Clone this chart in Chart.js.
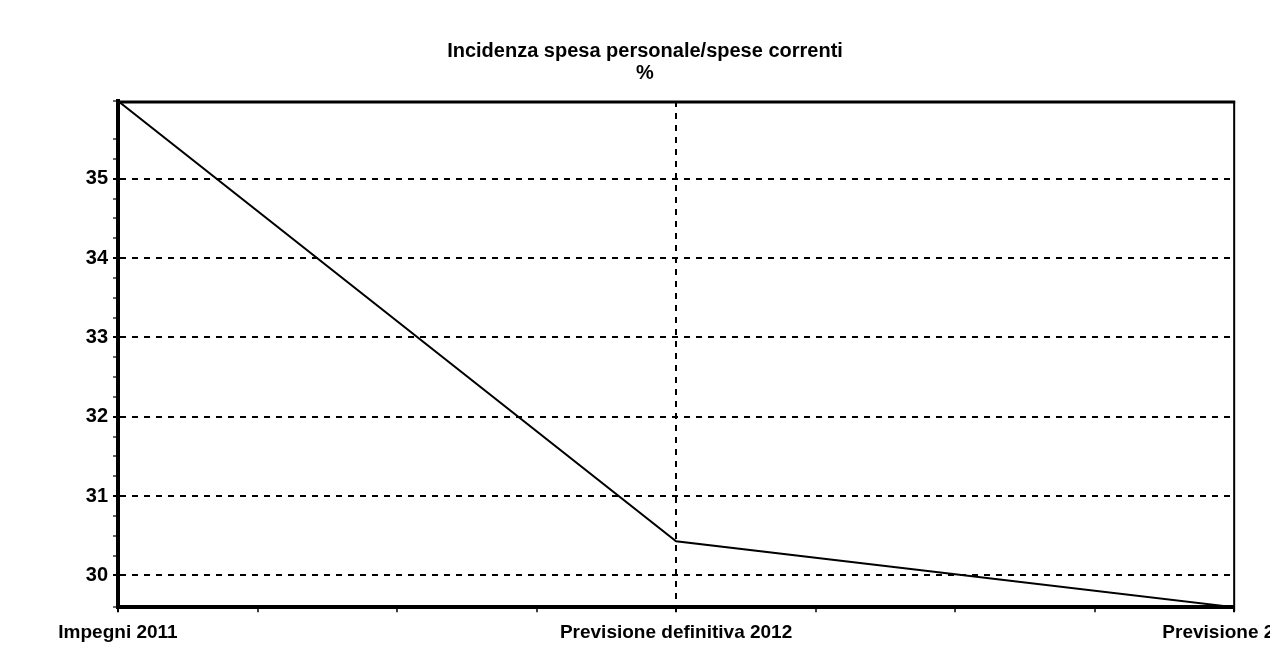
<!DOCTYPE html>
<html lang="it">
<head>
  <meta charset="UTF-8" />
  <title>Incidenza spesa personale/spese correnti</title>
  <script src="https://cdn.jsdelivr.net/npm/chart.js"></script>
  <style>
    html, body { margin: 0; padding: 0; background: #fff; overflow: hidden; }
    canvas { display: block; }
  </style>
</head>
<body>
  <canvas id="grafico" width="1315" height="669"></canvas>

  <script>
    // dati
    const categorie = ['Impegni 2011', 'Previsione definitiva 2012', 'Previsione 2013'];
    const valori = [35.98, 30.43, 29.6];
    const limitiY = [29.6, 35.98];
    const titolo = ['Incidenza spesa personale/spese correnti', '%'];

    const intero = v => Math.abs(v - Math.round(v)) < 1e-6;

    // bordo superiore e destro del riquadro
    const cornice = {
      id: 'cornice',
      afterDraw(chart) {
        const { ctx, chartArea: a } = chart;
        ctx.save();
        ctx.strokeStyle = '#000';
        ctx.lineWidth = 3;
        ctx.beginPath();
        ctx.moveTo(a.left, a.top + 1);
        ctx.lineTo(a.right + 1, a.top + 1);
        ctx.stroke();
        ctx.lineWidth = 2;
        ctx.beginPath();
        ctx.moveTo(a.right, a.top);
        ctx.lineTo(a.right, a.bottom + 4);
        ctx.stroke();
        ctx.restore();
      }
    };

    new Chart(document.getElementById('grafico'), {
      type: 'line',
      data: {
        datasets: [{
          data: valori.map((v, i) => ({ x: i, y: v })),
          borderColor: '#000',
          borderWidth: 2,
          pointRadius: 0,
          tension: 0
        }]
      },
      options: {
        responsive: false,
        animation: false,
        layout: { padding: { top: 20, left: 55, right: 80, bottom: 16 } },
        plugins: {
          legend: { display: false },
          tooltip: { enabled: false },
          title: {
            display: true,
            text: titolo,
            color: '#000',
            font: { family: 'Liberation Sans, Arial, sans-serif', size: 20, weight: 'bold', lineHeight: 1.1 },
            padding: { top: 20, bottom: 17 }
          }
        },
        scales: {
          x: {
            type: 'linear',
            min: 0,
            max: categorie.length - 1,
            border: { display: true, color: '#000', width: 4, dash: [6, 6] },
            grid: {
              color: c => c.tick && c.tick.value === 1 ? '#000' : 'rgba(0,0,0,0)',
              lineWidth: 2,
              tickColor: '#000',
              tickWidth: c => c.tick && intero(c.tick.value) ? 2 : 1.5,
              tickLength: 5
            },
            ticks: {
              stepSize: 0.25,
              autoSkip: false,
              maxRotation: 0,
              padding: 9,
              color: '#000',
              font: { family: 'Liberation Sans, Arial, sans-serif', size: 19, weight: 'bold' },
              callback: v => intero(v) ? categorie[Math.round(v)] : ''
            }
          },
          y: {
            min: limitiY[0],
            max: limitiY[1],
            afterFit: s => { s.width = 63; },
            border: { display: true, color: '#000', width: 4, dash: [6, 6] },
            grid: {
              color: c => c.tick && intero(c.tick.value) ? '#000' : 'rgba(0,0,0,0)',
              lineWidth: 2,
              tickColor: '#000',
              tickWidth: c => c.tick && intero(c.tick.value) ? 2 : 1.2,
              tickLength: 5
            },
            ticks: {
              stepSize: 0.25,
              maxTicksLimit: 100,
              autoSkip: false,
              padding: 5,
              color: '#000',
              font: { family: 'Liberation Sans, Arial, sans-serif', size: 20, weight: 'bold' },
              callback: v => intero(v) ? String(Math.round(v)) : ''
            }
          }
        }
      },
      plugins: [cornice]
    });
  </script>
</body>
</html>
